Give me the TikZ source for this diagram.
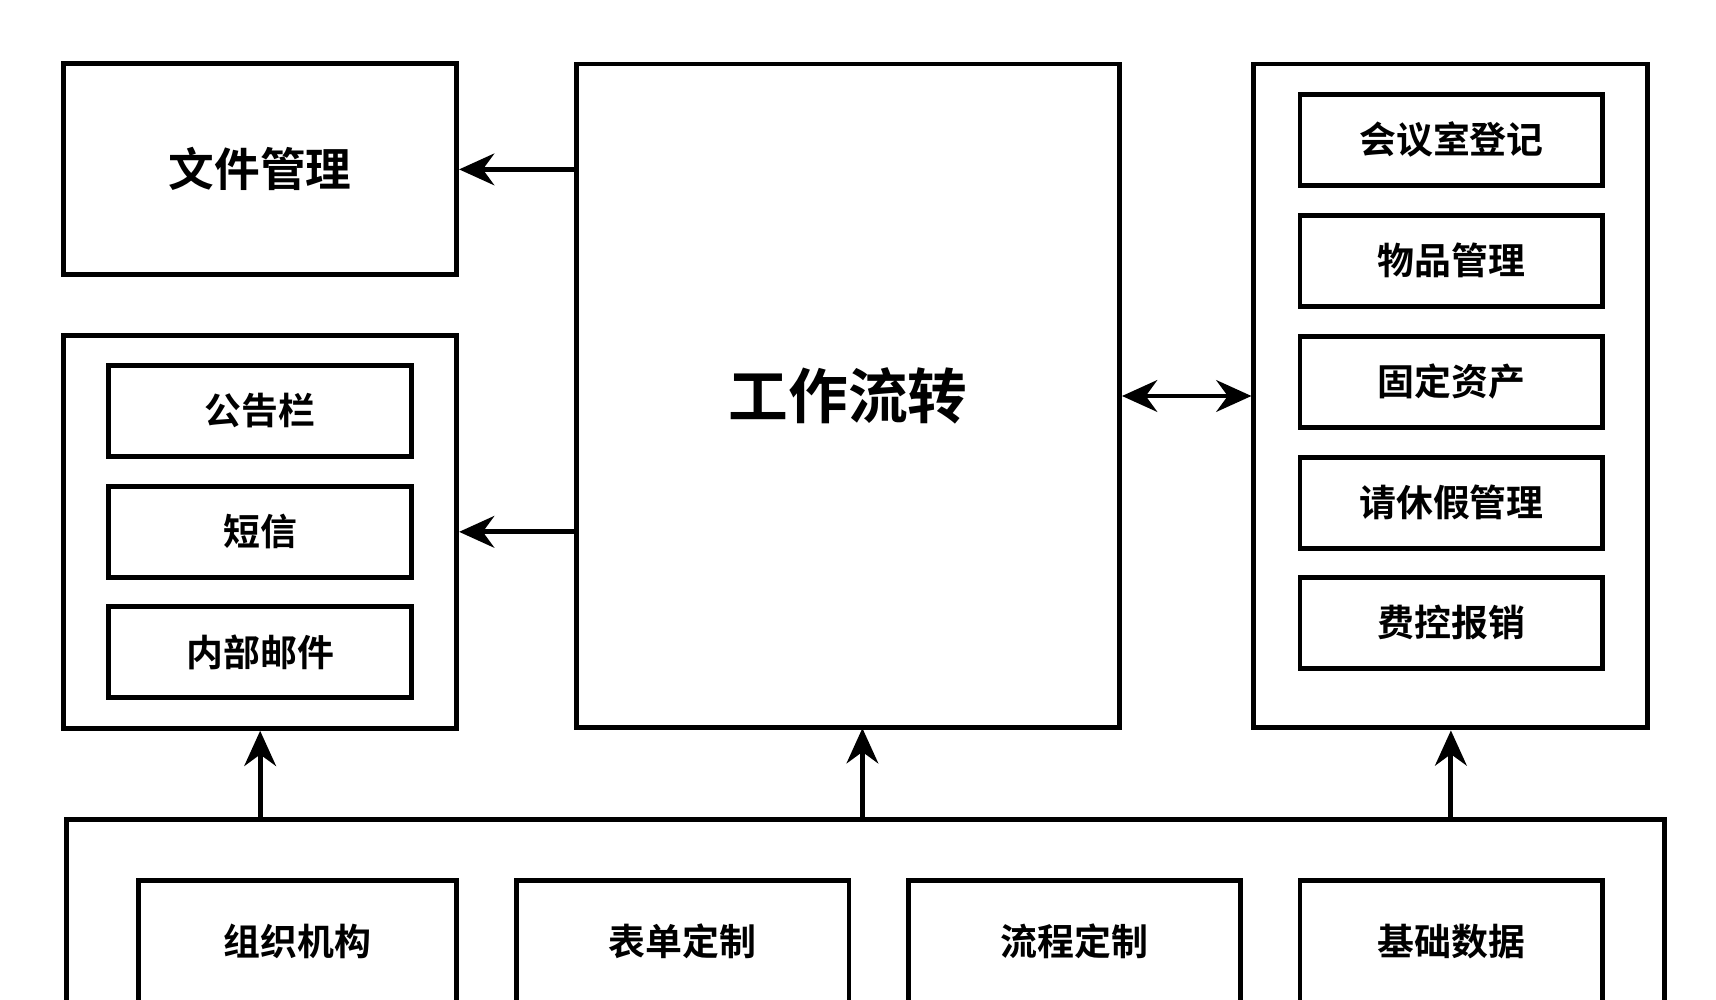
\documentclass[tikz,border=0pt]{standalone}
\usepackage{fontspec}
\newfontfamily\cjk{Noto Sans CJK SC Bold}
\usetikzlibrary{arrows.meta}
\tikzset{
  box/.style={draw,line width=1.4pt,inner sep=0pt,font=\cjk},
  item/.style={box,minimum width=3.03cm,minimum height=0.91cm,font=\cjk\fontsize{10.5}{12}\selectfont},
  link/.style={line width=1.4pt,-{Stealth[length=10pt,width=9pt]}}
}
\begin{document}
\begin{tikzpicture}[x=0.011cm,y=-0.011cm]
  \clip (0,0) rectangle (1560,909);
  % main blocks
  \node[box,minimum width=3.93cm,minimum height=2.11cm,font=\cjk\fontsize{13}{15}\selectfont] (file) at (236.5,154) {文件管理};
  \node[box,minimum width=3.93cm,minimum height=3.93cm] (comm) at (236.5,483.5) {};
  \node[box,minimum width=5.43cm,minimum height=6.64cm,font=\cjk\fontsize{17}{20}\selectfont] (flow) at (771,360) {工作流转};
  \node[box,minimum width=3.94cm,minimum height=6.64cm] (admin) at (1319,360) {};
  \node[box,minimum width=15.98cm,minimum height=2.5cm,anchor=north west] (base) at (58,743) {};
  % left group
  \node[item] (notice) at (236.5,373.5) {公告栏};
  \node[item] (sms) at (236.5,483.5) {短信};
  \node[item] (mail) at (236.5,593) {内部邮件};
  % right group
  \foreach \t/\y/\n in {会议室登记/127/a1,物品管理/237/a2,固定资产/347/a3,请休假管理/457/a4,费控报销/566/a5}
    \node[item] (\n) at (1319.5,\y) {\t};
  % bottom group
  \node[box,minimum width=3.18cm,minimum height=1.22cm,anchor=north,font=\cjk\fontsize{10.5}{12}\selectfont] (org) at (270.5,798) {组织机构};
  \node[box,minimum width=3.33cm,minimum height=1.22cm,anchor=north,font=\cjk\fontsize{10.5}{12}\selectfont] (form) at (620.5,798) {表单定制};
  \node[box,minimum width=3.32cm,minimum height=1.22cm,anchor=north,font=\cjk\fontsize{10.5}{12}\selectfont] (proc) at (977,798) {流程定制};
  \node[box,minimum width=3.03cm,minimum height=1.22cm,anchor=north,font=\cjk\fontsize{10.5}{12}\selectfont] (data) at (1319.5,798) {基础数据};
  % connectors
  \draw[link] (flow.west |- file) -- (file.east);
  \draw[link] (flow.west |- comm) -- (comm.east);
  \draw[link,{Stealth[length=10pt,width=9pt]}-{Stealth[length=10pt,width=9pt]}] (flow.east) -- (admin.west);
  \draw[link] (base.north -| comm) -- (comm.south);
  \draw[link] (base.north -| 784,0) -- (784,662);
  \draw[link] (base.north -| admin) -- (admin.south);
\end{tikzpicture}
\end{document}
